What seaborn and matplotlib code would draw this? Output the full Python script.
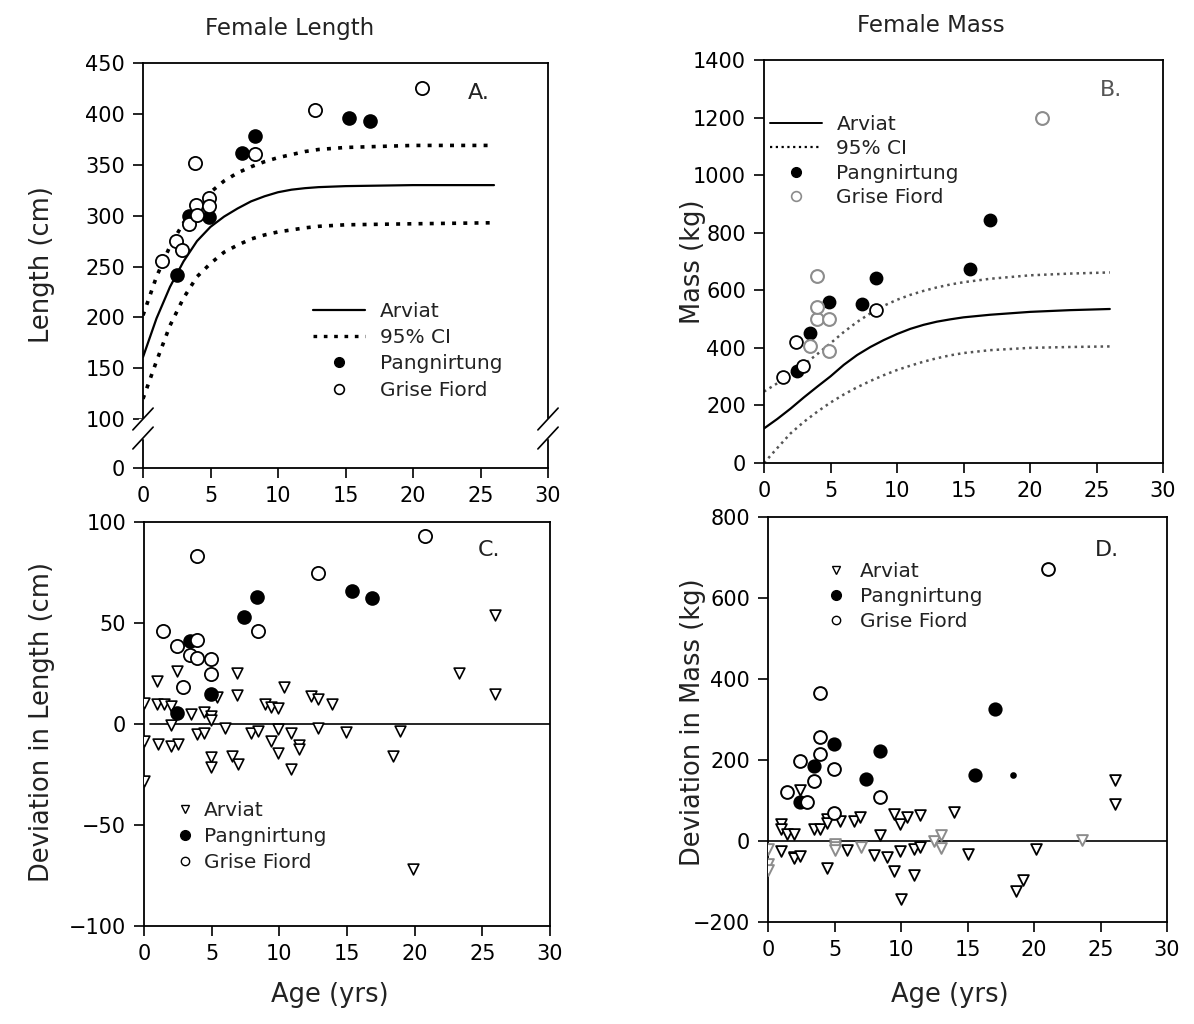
import numpy as np
import pandas as pd
import matplotlib
matplotlib.use("Agg")
import matplotlib.pyplot as plt
import seaborn as sns
from matplotlib.lines import Line2D

# ---------------- Data ----------------
# Panel A: Female length growth curve (Arviat) and 95% CI
curve_a_age = [0, 1, 2, 3, 4, 5, 6, 7, 8, 9, 10, 11, 12, 13, 15, 20, 26]
curve_a_fit = [161, 199, 230, 255, 275, 289, 299, 307, 314, 319, 323, 325.5, 327, 328, 329, 330, 330]
curve_a_upper = [202, 240, 270, 293, 310, 323, 334, 342, 348, 353, 357, 360, 363, 365, 367, 369, 369]
curve_a_lower = [120, 157, 192, 219, 240, 253, 264, 271, 277, 281, 284, 286, 288, 289.5, 291, 292, 293]

pang_a_age = [2.49, 3.42, 4.9, 7.3, 8.28, 15.25, 16.8]
pang_a_len = [242, 300, 299, 362, 378, 396, 393]
grise_a_age = [1.43, 2.42, 2.9, 3.42, 3.9, 3.97, 3.84, 4.9, 4.9, 8.28, 12.76, 20.7]
grise_a_len = [255, 275, 266, 292, 310, 301, 352, 317, 309, 361, 404, 425]

# Panel B: Female mass growth curve (Arviat) and 95% CI
curve_b_age = [0, 1, 2, 3, 4, 5, 6, 7, 8, 9, 10, 11, 12, 13, 14, 15, 17, 20, 23, 26]
curve_b_fit = [120, 153, 189, 228, 265, 301, 341, 375, 403, 427, 448, 466, 480, 491, 499, 506,
               515, 525, 531, 535]
curve_b_upper = [248, 277, 308, 342, 378, 416, 455, 490, 520, 546, 567, 584, 598, 610, 620, 628,
                 640, 652, 658, 662]
curve_b_lower = [0, 52, 103, 143, 178, 210, 238, 263, 285, 305, 323, 338, 352, 364, 374, 382,
                 392, 400, 403, 405]

pang_b_age = [2.46, 3.46, 4.9, 7.4, 8.4, 15.5, 17.0]
pang_b_mass = [320, 451, 561, 552, 642, 674, 845]
grise_b_age_dark = [1.45, 2.4, 2.95, 8.4]
grise_b_mass_dark = [298, 420, 337, 530]
grise_b_age_grey = [3.46, 3.96, 3.96, 3.96, 4.9, 4.9, 20.9]
grise_b_mass_grey = [407, 500, 541, 650, 500, 390, 1200]

# Panel C: deviation in length
arv_c_age = [0, 0.98, 0.98, 1.47, 2.0, 2.41, 2.0, 3.44, 4.42, 4.94, 4.94, 5.41, 6.89, 6.89,
             8.93, 9.42, 9.9, 10.35, 12.37, 12.86, 13.89, 23.3, 25.94, 25.94,
             0, 1.0, 2.0, 2.48, 3.95, 4.45, 4.94, 4.94, 5.98, 6.47, 6.96, 7.94, 8.43,
             9.42, 9.9, 9.9, 10.89, 10.89, 11.43, 11.43, 12.86, 14.9, 18.93, 18.39, 0, 19.91]
arv_c_dev = [10.5, 21.5, 9.7, 10, 8.9, 26, -0.5, 4.8, 5.9, 3.9, 1.8, 13.3, 25.3, 14.6,
             9.7, 8.4, 7.7, 18.2, 14.1, 12.2, 10, 25.3, 54, 14.9,
             -8.4, -9.7, -10.8, -9.7, -4.8, -4.3, -16.3, -21.5, -1.8, -15.8, -19.9, -4.3, -3.4,
             -8.4, -2.6, -14.6, -4.3, -22.3, -10.5, -12.5, -1.8, -3.8, -3.4, -15.8, -28, -72]
pang_c_age = [3.39, 8.36, 7.38, 15.37, 16.86, 4.94, 2.41]
pang_c_dev = [40.9, 62.7, 52.9, 66, 62.2, 14.9, 5.6]
grise_c_age = [3.88, 12.86, 20.8, 1.42, 8.43, 3.88, 2.41, 3.39, 3.88, 4.94, 4.94, 2.9]
grise_c_dev = [83.3, 75, 93, 46, 46, 41.4, 38.4, 34, 32.7, 32.2, 24.8, 18.4]

# Panel D: deviation in mass
arv_d_age = [2.43, 0.94, 0.94, 1.43, 1.93, 3.43, 3.93, 4.44, 4.44, 5.44, 6.44, 6.94, 8.44,
             9.44, 9.94, 10.44, 11.44, 14.0, 26.06, 26.06,
             0.94, 1.93, 1.93, 2.43, 4.44, 5.94, 7.95, 8.95, 9.44, 9.94, 10.0, 10.94, 10.94,
             11.44, 15.0, 18.65, 19.2, 20.16]
arv_d_dev = [126, 41, 30, 18, 18, 30, 30, 55, 45, 50.6, 49, 59, 16,
             67, 42.5, 59, 65, 71, 151, 92,
             -25, -40, -43, -36, -66, -23, -34, -40, -74.5, -23.5, -144, -19, -85,
             -15, -33, -124, -96, -19]
arv_d_age_grey = [0, 0, 0, 5, 5, 5, 7.02, 12.5, 13.0, 13.0, 23.6]
arv_d_dev_grey = [-19, -56, -71, -7, -15, -21, -13.6, 1, 15, -17, 3]
pang_d_age = [17.08, 4.94, 8.44, 3.43, 7.38, 15.6, 2.43]
pang_d_dev = [325, 240, 223, 186, 152, 162, 97.5]
pang_d_age_small = [18.4]
pang_d_dev_small = [162]
grise_d_age = [21.05, 3.89, 3.89, 3.89, 2.43, 4.94, 3.43, 1.43, 2.93, 8.44, 4.94]
grise_d_dev = [672, 366, 256, 215, 197, 178, 147, 120.5, 96, 108, 68.6]

x_ticks = [0, 5, 10, 15, 20, 25, 30]
a_ticks = [0, 100, 150, 200, 250, 300, 350, 400, 450]
b_ticks = [0, 200, 400, 600, 800, 1000, 1200, 1400]
c_ticks = [-100, -50, 0, 50, 100]
d_ticks = [-200, 0, 200, 400, 600, 800]

# ---------------- Style ----------------
sns.set_theme(style="white")
plt.rcParams['font.family'] = ['DejaVu Sans']
plt.rcParams.update({
    'axes.edgecolor': 'black', 'axes.linewidth': 1.3,
    'xtick.direction': 'out', 'ytick.direction': 'out',
    'xtick.major.size': 7, 'ytick.major.size': 7,
    'xtick.major.width': 1.2, 'ytick.major.width': 1.2,
    'xtick.bottom': True, 'ytick.left': True,
    'xtick.color': 'black', 'ytick.color': 'black',
    'text.color': '#222222',
})

W, H = 1194, 1024
fig = plt.figure(figsize=(W / 100, H / 100), dpi=100)

def box(l, r, t, b):
    return [l / W, 1 - b / H, (r - l) / W, (b - t) / H]

axA = fig.add_axes(box(143, 548, 63, 468))
axB = fig.add_axes(box(764, 1163, 60, 463))
axC = fig.add_axes(box(144, 550, 522, 926))
axD = fig.add_axes(box(768, 1167, 517, 922))

TICK_FS = 15
DOT = (0, (1.1, 2.0))

def line(ax, xs, ys, style, lw=1.6, color='black'):
    sns.lineplot(x=xs, y=ys, ax=ax, color=color, lw=lw, linestyle=style, legend=False)

def pts(ax, xs, ys, marker, filled, s=80, edge='black', lw=1.3):
    face = edge if filled else 'white'
    sns.scatterplot(x=xs, y=ys, ax=ax, marker=marker, s=s, color=face,
                    edgecolor=edge, linewidth=lw, legend=False, zorder=3)

def common(ax, yticks):
    ax.set_xlim(0, 30)
    ax.set_xticks(x_ticks)
    ax.set_yticks(yticks)
    ax.tick_params(labelsize=TICK_FS, pad=6)
    ax.set_xlabel('')
    ax.set_ylabel('')
    for sp in ax.spines.values():
        sp.set_visible(True)
        sp.set_color('black')

# ---------------- Panel A ----------------
K = 0.48
def fwd(y):
    y = np.asarray(y, dtype=float)
    return np.where(y >= 100, y, 100 - (100 - y) * K)
def inv(y):
    y = np.asarray(y, dtype=float)
    return np.where(y >= 100, y, 100 - (100 - y) / K)

line(axA, curve_a_age, curve_a_fit, '-')
line(axA, curve_a_age, curve_a_upper, DOT, lw=2.6)
line(axA, curve_a_age, curve_a_lower, DOT, lw=2.6)
pts(axA, pang_a_age, pang_a_len, 'o', True, s=85)
pts(axA, grise_a_age, grise_a_len, 'o', False, s=90)
axA.set_yscale('function', functions=(fwd, inv))
axA.set_ylim(0, 450)
common(axA, a_ticks)
axA.text(0.83, 0.925, 'A.', transform=axA.transAxes, fontsize=16, ha='center', va='center')

# axis break marks
for xf in (0.0, 1.0):
    axA.add_patch(plt.Rectangle((xf - 0.01, 0.075), 0.02, 0.045, transform=axA.transAxes,
                                color='white', clip_on=False, zorder=5))
    for yc in (0.121, 0.074):
        axA.plot([xf - 0.025, xf + 0.025], [yc - 0.027, yc + 0.027], transform=axA.transAxes,
                 color='black', lw=1.2, clip_on=False, zorder=6)

legA = [Line2D([], [], color='black', lw=1.6, ls='-', label='Arviat'),
        Line2D([], [], color='black', lw=2.4, ls=DOT, label='95% CI'),
        Line2D([], [], color='black', marker='o', ls='', ms=7, label='Pangnirtung'),
        Line2D([], [], color='black', marker='o', ls='', ms=7, mfc='white', mew=1.2,
               label='Grise Fiord')]
axA.legend(handles=legA, loc='upper left', bbox_to_anchor=(0.42, 0.41), frameon=False,
           fontsize=14.5, handlelength=2.6, handletextpad=0.7, labelspacing=0.36,
           borderpad=0, borderaxespad=0)

# ---------------- Panel B ----------------
line(axB, curve_b_age, curve_b_fit, '-')
line(axB, curve_b_age, curve_b_upper, (0, (1, 1.6)), lw=1.8, color='#555555')
line(axB, curve_b_age, curve_b_lower, (0, (1, 1.6)), lw=1.8, color='#555555')
pts(axB, pang_b_age, pang_b_mass, 'o', True, s=75)
pts(axB, grise_b_age_dark, grise_b_mass_dark, 'o', False, s=85)
pts(axB, grise_b_age_grey, grise_b_mass_grey, 'o', False, s=85, edge='#8c8c8c', lw=1.5)
axB.set_ylim(0, 1400)
common(axB, b_ticks)
axB.text(0.87, 0.925, 'B.', transform=axB.transAxes, fontsize=16, ha='center', va='center',
         color='#555555')
legB = [Line2D([], [], color='black', lw=1.4, ls='-', label='Arviat'),
        Line2D([], [], color='black', lw=1.6, ls=(0, (1, 1.6)), label='95% CI'),
        Line2D([], [], color='black', marker='o', ls='', ms=7, label='Pangnirtung'),
        Line2D([], [], color='#8c8c8c', marker='o', ls='', ms=7, mfc='white', mew=1.2,
               label='Grise Fiord')]
axB.legend(handles=legB, loc='upper left', bbox_to_anchor=(0.015, 0.863), frameon=False,
           fontsize=14.5, handlelength=2.6, handletextpad=0.7, labelspacing=0.26,
           borderpad=0, borderaxespad=0)

# ---------------- Panel C ----------------
axC.axhline(0, xmin=0.015, color='black', lw=1.2, zorder=1)
pts(axC, arv_c_age, arv_c_dev, 'v', False, s=60, lw=1.2)
pts(axC, pang_c_age, pang_c_dev, 'o', True, s=85)
pts(axC, grise_c_age, grise_c_dev, 'o', False, s=90)
axC.set_ylim(-100, 100)
common(axC, c_ticks)
axC.text(0.85, 0.93, 'C.', transform=axC.transAxes, fontsize=16, ha='center', va='center')
legC = [Line2D([], [], color='black', marker='v', ls='', ms=6, mfc='white', mew=1.0, label='Arviat'),
        Line2D([], [], color='black', marker='o', ls='', ms=7, label='Pangnirtung'),
        Line2D([], [], color='black', marker='o', ls='', ms=6, mfc='white', mew=1.0,
               label='Grise Fiord')]
axC.legend(handles=legC, loc='upper left', bbox_to_anchor=(0.075, 0.31), frameon=False,
           fontsize=14.5, handlelength=1.0, handletextpad=0.45, labelspacing=0.36,
           borderpad=0, borderaxespad=0)

# ---------------- Panel D ----------------
axD.axhline(0, xmin=0.0, color='black', lw=1.2, zorder=1)
pts(axD, arv_d_age, arv_d_dev, 'v', False, s=60, lw=1.3)
pts(axD, arv_d_age_grey, arv_d_dev_grey, 'v', False, s=60, edge='#8c8c8c', lw=1.4)
pts(axD, pang_d_age, pang_d_dev, 'o', True, s=80)
pts(axD, pang_d_age_small, pang_d_dev_small, 'o', True, s=12)
pts(axD, grise_d_age, grise_d_dev, 'o', False, s=85, lw=1.4)
axD.set_ylim(-200, 800)
common(axD, d_ticks)
axD.text(0.85, 0.918, 'D.', transform=axD.transAxes, fontsize=16, ha='center', va='center')
legD = [Line2D([], [], color='black', marker='v', ls='', ms=6, mfc='white', mew=1.0, label='Arviat'),
        Line2D([], [], color='black', marker='o', ls='', ms=7, label='Pangnirtung'),
        Line2D([], [], color='black', marker='o', ls='', ms=6, mfc='white', mew=1.0,
               label='Grise Fiord')]
axD.legend(handles=legD, loc='upper left', bbox_to_anchor=(0.14, 0.89), frameon=False,
           fontsize=14.5, handlelength=1.2, handletextpad=0.6, labelspacing=0.3,
           borderpad=0, borderaxespad=0)

# ---------------- Titles & labels ----------------
fig.text(290 / W, 1 - 28 / H, 'Female Length', ha='center', va='center', fontsize=16.5)
fig.text(931 / W, 1 - 25 / H, 'Female Mass', ha='center', va='center', fontsize=16.5)
fig.text(42 / W, 1 - 265 / H, 'Length (cm)', rotation=90, ha='center', va='center', fontsize=18.5)
fig.text(693 / W, 1 - 262 / H, 'Mass (kg)', rotation=90, ha='center', va='center', fontsize=18.5)
fig.text(42 / W, 1 - 722 / H, 'Deviation in Length (cm)', rotation=90, ha='center',
         va='center', fontsize=18.5)
fig.text(693 / W, 1 - 722 / H, 'Deviation in Mass (kg)', rotation=90, ha='center',
         va='center', fontsize=18.5)
fig.text(330 / W, 1 - 995 / H, 'Age (yrs)', ha='center', va='center', fontsize=18.5)
fig.text(950 / W, 1 - 995 / H, 'Age (yrs)', ha='center', va='center', fontsize=18.5)

fig.savefig('out.png', dpi=100, facecolor='white')
